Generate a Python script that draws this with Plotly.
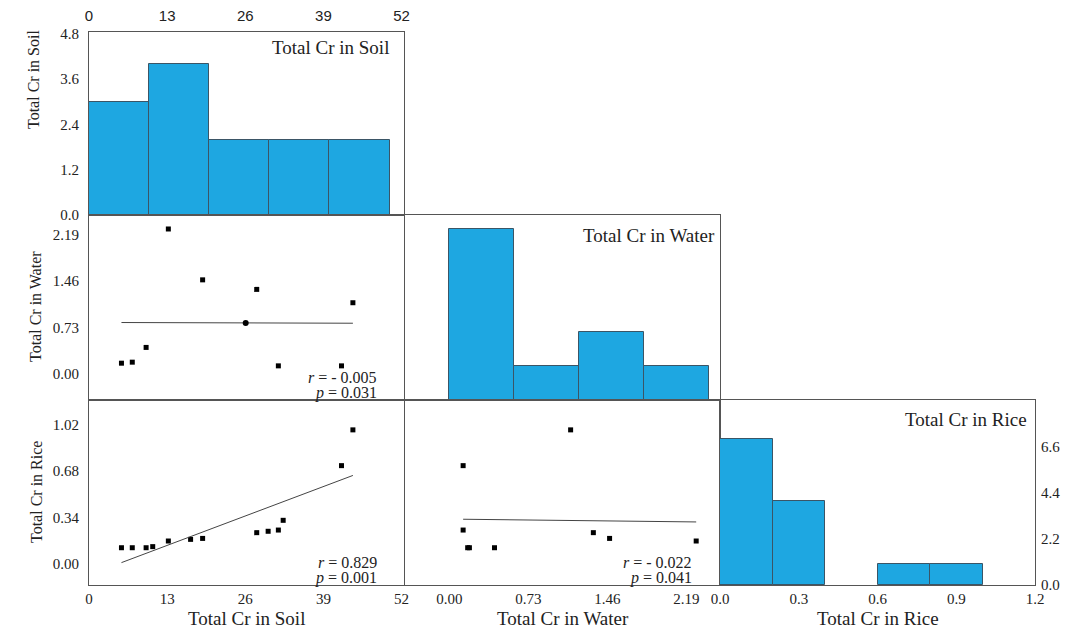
import numpy as np
import plotly.graph_objects as go

# ---------------- data ----------------
soil = [5.4, 7.2, 9.5, 10.6, 13.2, 16.9, 18.9, 27.9, 29.8, 31.5, 32.3, 42.0, 43.9]
rice = [0.119, 0.119, 0.119, 0.127, 0.168, 0.180, 0.187, 0.229, 0.239, 0.248, 0.319, 0.718, 0.979]
water = [0.169, 0.185, 0.417, None, 2.28, None, 1.48, 1.33, None, 0.127, None, 0.127, 1.12]

soil_ticks = [0, 13, 26, 39, 52]
water_ticks = [0.00, 0.73, 1.46, 2.19]
rice_ticks = [0.0, 0.3, 0.6, 0.9, 1.2]
soil_count_ticks = [0.0, 1.2, 2.4, 3.6, 4.8]
rice_count_ticks = [0.0, 2.2, 4.4, 6.6]
rice_val_ticks = [0.00, 0.34, 0.68, 1.02]

stats_soil_water = ("- 0.005", "0.031")
stats_soil_rice = ("0.829", "0.001")
stats_water_rice = ("- 0.022", "0.041")

# ---------------- helpers ----------------
W, H = 1065, 629
SERIF = "Liberation Serif"
SANS = "Liberation Sans"
BAR = "#1ea7e1"
BAR_LINE = "#3b5566"
AX = "#555555"

def px_x(p):
    return p / W

def px_y(p):
    return 1 - p / H

cols = [(89, 404), (405, 720), (720, 1035)]
rows = [(32, 215), (215, 400), (400, 585)]

def dom_x(c):
    return [px_x(cols[c][0]), px_x(cols[c][1])]

def dom_y(r):
    return [px_y(rows[r][1]), px_y(rows[r][0])]

def pairs(a, b):
    xs, ys = [], []
    for u, v in zip(a, b):
        if u is not None and v is not None:
            xs.append(u)
            ys.append(v)
    return np.array(xs), np.array(ys)

fig = go.Figure()

soil_rng = [0, 52.4]
water_rng = [-0.41, 2.5]
rice_rng = [-0.153, 1.197]

# Panel 1: soil histogram (x1,y1)
fig.add_trace(go.Histogram(x=soil, xbins=dict(start=0, end=50, size=10),
                           marker=dict(color=BAR, line=dict(color=BAR_LINE, width=1)),
                           xaxis="x", yaxis="y", showlegend=False))

# Panel 2: soil vs water (x2,y2)
sx, wy = pairs(soil, water)
fig.add_trace(go.Scatter(x=sx, y=wy, mode="markers",
                         marker=dict(symbol="square", size=5, color="black"),
                         xaxis="x2", yaxis="y2", showlegend=False))
k, b = np.polyfit(sx, wy, 1)
lx = np.array([sx.min(), sx.max()])
fig.add_trace(go.Scatter(x=lx, y=k * lx + b, mode="lines", line=dict(color="#444", width=1),
                         xaxis="x2", yaxis="y2", showlegend=False))
fig.add_trace(go.Scatter(x=[sx.mean() + 3.9], y=[k * (sx.mean() + 3.9) + b], mode="markers",
                         marker=dict(symbol="circle", size=6, color="black"),
                         xaxis="x2", yaxis="y2", showlegend=False))

# Panel 3: water histogram (x3,y3)
fig.add_trace(go.Histogram(x=[w for w in water if w is not None], xbins=dict(start=0, end=2.4, size=0.6),
                           marker=dict(color=BAR, line=dict(color=BAR_LINE, width=1)),
                           xaxis="x3", yaxis="y3", showlegend=False))

# Panel 4: soil vs rice (x4,y4)
sx2, ry = np.array(soil), np.array(rice)
fig.add_trace(go.Scatter(x=sx2, y=ry, mode="markers",
                         marker=dict(symbol="square", size=5, color="black"),
                         xaxis="x4", yaxis="y4", showlegend=False))
k, b = np.polyfit(sx2, ry, 1)
lx = np.array([sx2.min(), sx2.max()])
fig.add_trace(go.Scatter(x=lx, y=k * lx + b, mode="lines", line=dict(color="#444", width=1),
                         xaxis="x4", yaxis="y4", showlegend=False))

# Panel 5: water vs rice (x5,y5)
wx, ry2 = pairs(water, rice)
fig.add_trace(go.Scatter(x=wx, y=ry2, mode="markers",
                         marker=dict(symbol="square", size=5, color="black"),
                         xaxis="x5", yaxis="y5", showlegend=False))
k, b = np.polyfit(wx, ry2, 1)
lx = np.array([wx.min(), wx.max()])
fig.add_trace(go.Scatter(x=lx, y=k * lx + b, mode="lines", line=dict(color="#444", width=1),
                         xaxis="x5", yaxis="y5", showlegend=False))

# Panel 6: rice histogram (x6,y6)
fig.add_trace(go.Histogram(x=rice, xbins=dict(start=0, end=1.0, size=0.2),
                           marker=dict(color=BAR, line=dict(color=BAR_LINE, width=1)),
                           xaxis="x6", yaxis="y6", showlegend=False))

tickfont = dict(family=SERIF, size=15, color="#222")

def axis(domain, rng, anchor, tickvals=None, ticktext=None, side=None, show=True, font=tickfont, standoff=4):
    d = dict(domain=domain, range=rng, anchor=anchor, showline=True, mirror=True,
             linecolor=AX, linewidth=1, showgrid=False, zeroline=False, ticks="",
             fixedrange=True, tickfont=font, ticklabelstandoff=standoff, automargin=False)
    if tickvals is not None and show:
        d["tickvals"] = tickvals
        d["ticktext"] = ticktext
    else:
        d["showticklabels"] = False
    if side:
        d["side"] = side
    return d

fmt2 = lambda v: f"{v:.2f}"
fmt1 = lambda v: f"{v:.1f}"

fig.update_layout(
    width=W, height=H,
    margin=dict(l=0, r=0, t=0, b=0, autoexpand=False),
    paper_bgcolor="white", plot_bgcolor="white",
    bargap=0,
    font=dict(family=SERIF, color="#222"),
    xaxis=axis(dom_x(0), soil_rng, "y", soil_ticks, [str(v) for v in soil_ticks], side="top",
               font=dict(family=SANS, size=15, color="#222"), standoff=4),
    yaxis=axis(dom_y(0), [0, 4.85], "x", soil_count_ticks, [fmt1(v) for v in soil_count_ticks], standoff=6),
    xaxis2=axis(dom_x(0), soil_rng, "y2", show=False),
    yaxis2=axis(dom_y(1), water_rng, "x2", water_ticks, [fmt2(v) for v in water_ticks], standoff=6),
    xaxis3=axis(dom_x(1), water_rng, "y3", show=False),
    yaxis3=axis(dom_y(1), [0, 5.42], "x3", show=False),
    xaxis4=axis(dom_x(0), soil_rng, "y4", soil_ticks, [str(v) for v in soil_ticks], standoff=0),
    yaxis4=axis(dom_y(2), rice_rng, "x4", rice_val_ticks, [fmt2(v) for v in rice_val_ticks], standoff=6),
    xaxis5=axis(dom_x(1), water_rng, "y5", water_ticks, [fmt2(v) for v in water_ticks], standoff=0),
    yaxis5=axis(dom_y(2), rice_rng, "x5", show=False),
    xaxis6=axis(dom_x(2), [0, 1.2], "y6", rice_ticks, [fmt1(v) for v in rice_ticks], standoff=0),
    yaxis6=axis(dom_y(2), [0, 8.85], "x6", rice_count_ticks, [fmt1(v) for v in rice_count_ticks],
                side="right", standoff=2),
)

ann = []

def text(x, y, s, size, xanchor="center", yanchor="middle", angle=0):
    ann.append(dict(x=px_x(x), y=px_y(y), xref="paper", yref="paper", text=s, showarrow=False,
                    xanchor=xanchor, yanchor=yanchor, textangle=angle,
                    font=dict(family=SERIF, size=size, color="#222")))

# in-panel titles
text(391, 48, "Total Cr in Soil", 19, xanchor="right")
text(717, 235, "Total Cr in Water", 19, xanchor="right")
text(1029, 419, "Total Cr in Rice", 19, xanchor="right")

# bottom axis titles
text(246.5, 618, "Total Cr in Soil", 19)
text(562.5, 618, "Total Cr in Water", 19)
text(877.5, 618, "Total Cr in Rice", 19)

# left axis titles
text(33, 80, "Total Cr in Soil", 16, angle=-90)
text(35, 307, "Total Cr in Water", 16, angle=-90)
text(36, 492, "Total Cr in Rice", 16, angle=-90)

# stats
def stats(xr, yr, rp):
    text(xr, yr, f"<i>r</i> = {rp[0]}", 16, xanchor="right")
    text(xr, yr + 16, f"<i>p</i> = {rp[1]}", 16, xanchor="right")

stats(379, 377, stats_soil_water)
stats(379, 562, stats_soil_rice)
stats(694, 562, stats_water_rice)

fig.update_layout(annotations=ann)

fig.write_html("out.html", config={"displayModeBar": False},
               post_script="document.body.style.margin='0px';document.body.style.overflow='hidden';")
